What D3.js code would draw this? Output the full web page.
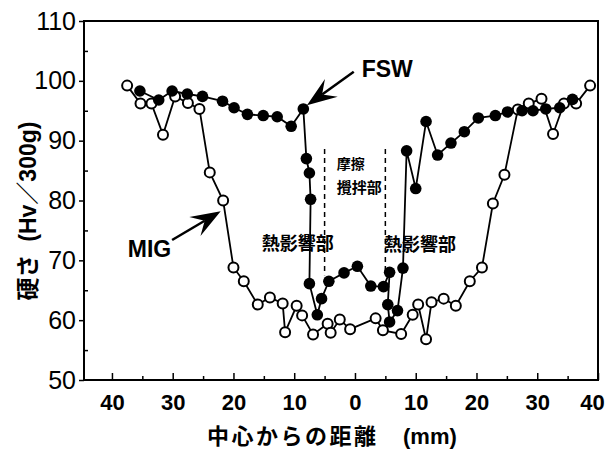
<!DOCTYPE html>
<html>
<head>
<meta charset="utf-8">
<script src="https://cdn.jsdelivr.net/npm/d3@7"></script>
<style>
  body { margin: 0; background: #fff; }
  svg { display: block; }
</style>
</head>
<body>
<svg id="chart"></svg>
<script>
/* Hardness profile: FSW vs MIG */

// svg size and plot box
var svg_width = 608, svg_height = 450;
var box = { left: 84, right: 598, top: 21, bottom: 380 };

// MIG series (open circles), x = distance from centre (mm)
var migX = [-37.5, -35.3, -33.5, -31.6, -29.6, -27.5, -25.6, -23.9, -21.7, -20.0,
	-18.3, -16.0, -14.0, -11.9, -11.5, -9.6, -8.7, -6.9, -4.5, -4.0,
	-2.5, -0.8, 3.4, 4.6, 7.6, 9.5, 10.4, 11.7, 12.6, 14.6,
	16.6, 18.9, 20.9, 22.7, 24.6, 26.8, 28.6, 30.7, 32.6, 34.4,
	36.4, 38.7];
var migY = [99.2, 96.2, 96.2, 91.0, 97.4, 96.3, 95.3, 84.7, 80.0, 68.8,
	66.5, 62.6, 63.8, 62.8, 58.0, 62.4, 60.8, 57.6, 59.4, 57.9,
	60.1, 58.5, 60.3, 58.3, 57.7, 60.9, 62.6, 56.8, 63.0, 63.6,
	62.4, 66.5, 68.8, 79.5, 84.3, 95.2, 96.2, 97.0, 91.1, 96.2,
	96.2, 99.2];

// FSW series (filled circles)
var fswX = [-35.4, -32.3, -30.1, -27.6, -25.1, -21.8, -19.9, -17.7, -15.1, -12.8,
	-10.5, -8.5, -8.0, -7.5, -7.3, -7.5, -6.2, -5.5, -4.3, -1.8,
	0.4, 2.6, 4.7, 5.7, 5.4, 5.7, 7.0, 7.9, 8.5, 10.0,
	11.7, 13.6, 15.8, 18.0, 20.3, 23.1, 25.1, 27.5, 29.3, 31.4,
	33.7, 35.8];
var fswY = [98.3, 96.8, 98.3, 97.8, 97.4, 96.6, 95.5, 94.4, 94.2, 94.0,
	92.4, 95.3, 87.0, 84.6, 80.2, 66.1, 60.9, 63.6, 66.5, 67.9,
	69.0, 65.7, 65.6, 68.0, 62.6, 59.7, 61.6, 68.7, 88.3, 82.0,
	93.2, 87.6, 89.6, 91.5, 93.8, 94.2, 94.8, 95.0, 95.0, 95.3,
	95.5, 96.9];

// Tick values
var xTicks = [-40, -30, -20, -10, 0, 10, 20, 30, 40];
var xMinor = [-35, -25, -15, -5, 5, 15, 25, 35];
var yTicks = [50, 60, 70, 80, 90, 100, 110];
var yMinor = [55, 65, 75, 85, 95, 105];

// Zone boundaries (dashed lines), mm
var zoneX = [-5, 5];

// Scales
var x = d3.scaleLinear().domain([-44.6, 40]).range([box.left, box.right]);
var y = d3.scaleLinear().domain([50, 110]).range([box.bottom, box.top]);

var svg = d3.select("#chart")
	.attr("width", svg_width)
	.attr("height", svg_height);

var latin = "'Liberation Sans', Arial, sans-serif";
var cjk = "'Noto Sans CJK JP', sans-serif";

function zip(xs, ys) {
	return xs.map(function (d, i) { return { x: d, y: ys[i] }; });
}
var mig = zip(migX, migY);
var fsw = zip(fswX, fswY);

// Frame
svg.append("rect")
	.attr("x", box.left).attr("y", box.top)
	.attr("width", box.right - box.left)
	.attr("height", box.bottom - box.top)
	.attr("fill", "none")
	.attr("stroke", "#000")
	.attr("stroke-width", 2);

// X axis: ticks point up into the plot, labels are absolute values
var xAxis = svg.append("g")
	.attr("transform", "translate(0," + box.bottom + ")")
	.call(d3.axisBottom(x).tickValues(xTicks).tickSize(-7).tickPadding(14)
		.tickFormat(function (d) { return Math.abs(d); }));
xAxis.select(".domain").remove();
xAxis.selectAll("line").attr("stroke-width", 1.5);
xAxis.selectAll("text")
	.attr("font-family", latin).attr("font-size", 22).attr("font-weight", "bold")
	.attr("fill", "#000")
	.attr("dx", function (d) { return d == 40 ? -6 : 0; });

svg.append("g")
	.call(d3.axisBottom(x).tickValues(xMinor).tickSize(-4).tickFormat(""))
	.attr("transform", "translate(0," + box.bottom + ")")
	.call(function (g) { g.select(".domain").remove(); })
	.selectAll("line").attr("stroke-width", 1.5);

// Y axis: major ticks outside, minor ticks inside
var yAxis = svg.append("g")
	.attr("transform", "translate(" + box.left + ",0)")
	.call(d3.axisLeft(y).tickValues(yTicks).tickSize(5).tickPadding(3));
yAxis.select(".domain").remove();
yAxis.selectAll("line").attr("stroke-width", 1.5);
yAxis.selectAll("text")
	.attr("font-family", latin).attr("font-size", 25)
	.attr("fill", "#000");

svg.append("g")
	.attr("transform", "translate(" + box.left + ",0)")
	.call(d3.axisRight(y).tickValues(yMinor).tickSize(4).tickFormat(""))
	.call(function (g) { g.select(".domain").remove(); })
	.selectAll("line").attr("stroke-width", 1.5);

// Axis titles
svg.append("text")
	.attr("x", 207).attr("y", 443.5)
	.attr("letter-spacing", 2.5)
	.attr("font-family", cjk).attr("font-size", 22).attr("font-weight", "bold")
	.text("中心からの距離");
svg.append("text")
	.attr("x", 403).attr("y", 443.5)
	.attr("font-family", latin).attr("font-size", 22).attr("font-weight", "bold")
	.text("(mm)");

var yTitle = svg.append("text")
	.attr("transform", "translate(36,211) rotate(-90)")
	.attr("text-anchor", "middle")
	.attr("font-size", 23).attr("font-weight", "bold");
yTitle.append("tspan").attr("font-family", cjk).text("硬さ");
yTitle.append("tspan").attr("font-family", latin).text("\u00a0 (Hv");
yTitle.append("tspan").attr("font-family", cjk).text("／");
yTitle.append("tspan").attr("font-family", latin).text("300g)");

// Dashed zone lines
svg.selectAll(".zone")
	.data(zoneX)
	.enter().append("line")
	.attr("class", "zone")
	.attr("x1", function (d) { return x(d); })
	.attr("x2", function (d) { return x(d); })
	.attr("y1", y(88.6)).attr("y2", y(67.5))
	.attr("stroke", "#000")
	.attr("stroke-width", 1.5)
	.attr("stroke-dasharray", "5,4");

// Lines
var line = d3.line()
	.x(function (d) { return x(d.x); })
	.y(function (d) { return y(d.y); });

[mig, fsw].forEach(function (s) {
	svg.append("path")
		.datum(s)
		.attr("fill", "none")
		.attr("stroke", "#000")
		.attr("stroke-width", 1.8)
		.attr("d", line);
});

// Markers
svg.selectAll(".mig")
	.data(mig)
	.enter().append("circle")
	.attr("class", "mig")
	.attr("cx", function (d) { return x(d.x); })
	.attr("cy", function (d) { return y(d.y); })
	.attr("r", 5)
	.attr("fill", "#fff")
	.attr("stroke", "#000")
	.attr("stroke-width", 2);

svg.selectAll(".fsw")
	.data(fsw)
	.enter().append("circle")
	.attr("class", "fsw")
	.attr("cx", function (d) { return x(d.x); })
	.attr("cy", function (d) { return y(d.y); })
	.attr("r", 5.8)
	.attr("fill", "#000");

// Arrow with a notched head, from tail to tip (data units)
function arrow(tail, tip) {
	var x0 = x(tail[0]), y0 = y(tail[1]), x1 = x(tip[0]), y1 = y(tip[1]);
	var dx = x1 - x0, dy = y1 - y0, len = Math.sqrt(dx * dx + dy * dy);
	var ux = dx / len, uy = dy / len, L = 30, W = 11;
	var bx = x1 - ux * L, by = y1 - uy * L;
	var nx = x1 - ux * L * 0.62, ny = y1 - uy * L * 0.62;
	svg.append("line")
		.attr("x1", x0).attr("y1", y0).attr("x2", nx).attr("y2", ny)
		.attr("stroke", "#000").attr("stroke-width", 2.5);
	svg.append("path")
		.attr("d", "M" + x1 + "," + y1 +
			"L" + (bx - uy * W) + "," + (by + ux * W) +
			"L" + nx + "," + ny +
			"L" + (bx + uy * W) + "," + (by - ux * W) + "Z")
		.attr("fill", "#000");
}

arrow([-0.2, 101.5], [-7.9, 95.9]);
arrow([-30.1, 73.4], [-22.1, 78.2]);

// Labels
svg.append("text")
	.attr("x", x(1.1)).attr("y", y(100.6))
	.attr("font-family", latin).attr("font-size", 23).attr("font-weight", "bold")
	.text("FSW");
svg.append("text")
	.attr("x", x(-37.4)).attr("y", y(70.6))
	.attr("font-family", latin).attr("font-size", 23).attr("font-weight", "bold")
	.text("MIG");

[[-9.4, 73.1], [10.7, 72.9]].forEach(function (p) {
	svg.append("text")
		.attr("x", x(p[0])).attr("y", y(p[1]))
		.attr("text-anchor", "middle")
		.attr("dominant-baseline", "central")
		.attr("font-family", cjk).attr("font-size", 18).attr("font-weight", "bold")
		.text("熱影響部");
});

svg.append("text")
	.attr("x", x(-3.0)).attr("y", y(86.3))
	.attr("dominant-baseline", "central")
	.attr("font-family", cjk).attr("font-size", 14).attr("font-weight", "bold")
	.text("摩擦");
svg.append("text")
	.attr("x", x(-3.0)).attr("y", y(82.4))
	.attr("dominant-baseline", "central")
	.attr("font-family", cjk).attr("font-size", 15).attr("font-weight", "bold")
	.text("攪拌部");
</script>
</body>
</html>
